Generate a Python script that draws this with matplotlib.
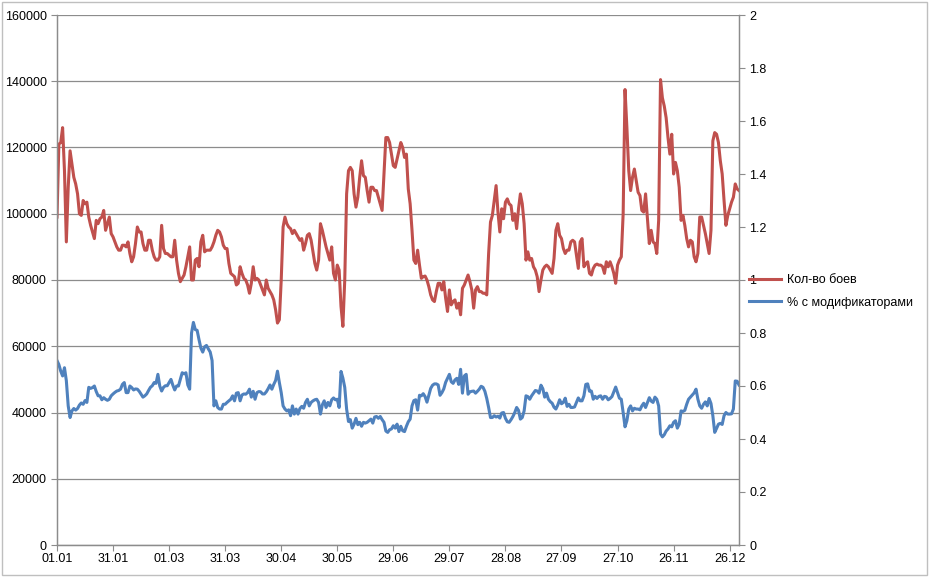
import matplotlib
matplotlib.use("Agg")
import matplotlib.pyplot as plt
import matplotlib.dates as mdates
from matplotlib.ticker import MultipleLocator, FuncFormatter
import numpy as np
import pandas as pd

plt.rcParams['font.family'] = ['Liberation Sans', 'DejaVu Sans']

# daily data, 2012 (leap year), 01.01 .. 31.12
start_date = '2012-01-01'

# number of battles, thousands
battles_k = [
    99, 121, 121.5, 126, 113, 91.5, 108, 119, 115, 111, 109, 106, 100, 99.5, 104, 103, 103.5, 99, 96.5, 94.5,
    92.5, 98, 97, 98.5, 99, 101, 95, 97, 99, 94, 93, 91.5, 90, 89, 89, 90.5, 90.5, 90, 91.5, 88,
    85.5, 87, 91, 96, 94.5, 94.5, 91, 89, 89, 92, 92, 89, 87, 86, 86, 87, 96.5, 89.5, 88, 88, 87.5,
    87, 87, 92, 86, 82, 79.5, 80.5, 81.5, 84, 87, 90, 80, 80, 86, 86.5, 84, 91.5, 93.5, 88.5, 89,
    89, 89, 90, 91.5, 93.5, 95, 94.5, 93, 90.5, 89.5, 89.5, 85, 82, 81.5, 81, 78.5, 79, 84, 82, 80.5,
    80, 78.5, 76, 79, 84, 80, 80.5, 80, 78.5, 77, 75.5, 80, 77.5, 76.5, 75.5, 74, 71, 67, 68, 80, 96,
    99, 97, 96, 95.5, 94, 95, 94, 93, 92, 92.5, 89, 91, 93.5, 94, 92, 88.5, 85, 83, 86, 97,
    95, 92.5, 90, 88, 86, 90, 82, 80, 84.5, 83, 72, 66, 80, 106, 113, 114, 113, 106, 102, 105,
    111, 116, 111.5, 111, 107, 103.5, 108, 108, 107, 107, 105, 103, 101, 112, 123, 123, 121.5, 118, 114.5, 114,
    116.5, 119, 121.5, 120, 117, 118, 107.5, 103, 95, 86, 85, 89, 84.5, 80.5, 81, 81.2, 80, 78, 75.5, 74,
    73.5, 76.5, 79, 79, 77, 79.5, 74.5, 70.5, 77, 72.5, 73.5, 74, 71.5, 73, 69.5, 77.5, 78.5, 80, 81.5, 79.5,
    77, 71.5, 77, 78, 76.5, 76.5, 76, 76, 75.5, 88, 97.5, 99.5, 104, 108.5, 100.5, 94.5, 101.5, 98.5, 103.5, 104.5, 103,
    102.5, 98, 100, 95.5, 101.5, 106, 103, 97, 86, 88.5, 86, 86.5, 84, 83, 81, 76.5, 80, 83, 84, 84.5,
    84, 83, 82, 86.5, 95, 97, 93.5, 92.5, 89.5, 88, 89, 89, 91.5, 92, 91.5, 87.5, 83.5, 91.5, 92.5, 84,
    85, 85.5, 82, 81.5, 83.5, 84.5, 84.8, 84.5, 84.5, 84, 82, 85.5, 84, 85.5, 84, 82, 79, 84.5, 86, 87,
    100, 137.5, 126, 113, 107, 111, 113.5, 110, 106.5, 105.5, 101, 100.5, 106, 98.5, 91, 95, 91.5, 91, 88, 98,
    140.5, 135, 132.5, 129, 123, 118, 124, 112, 115.5, 113, 108, 98, 99.5, 96.5, 92.5, 90, 92, 91.5, 87, 85.5,
    88, 99, 99, 96.5, 94, 91, 88, 95, 122, 124.5, 124, 121.5, 116, 112, 104, 96.5, 99.5, 101.5, 103.5, 105,
    109, 107.5, 107,
]

# share of battles with modifiers
mod_share = [
    0.696, 0.681, 0.656, 0.638, 0.669, 0.62, 0.525, 0.481, 0.506, 0.515, 0.509, 0.515, 0.528, 0.536, 0.531, 0.545,
    0.538, 0.595, 0.591, 0.594, 0.6, 0.579, 0.563, 0.563, 0.548, 0.556, 0.55, 0.546, 0.55, 0.563, 0.57, 0.576,
    0.581, 0.583, 0.588, 0.606, 0.613, 0.575, 0.575, 0.6, 0.594, 0.585, 0.589, 0.588, 0.58, 0.569, 0.558, 0.563,
    0.57, 0.583, 0.595, 0.601, 0.613, 0.61, 0.644, 0.6, 0.581, 0.595, 0.601, 0.601, 0.613,
    0.625, 0.603, 0.585, 0.6, 0.6, 0.625, 0.65, 0.646, 0.65, 0.604, 0.588, 0.8, 0.84, 0.813, 0.81, 0.775,
    0.743, 0.728, 0.748, 0.753, 0.74, 0.728, 0.696, 0.525, 0.544, 0.519, 0.513, 0.513, 0.531, 0.531, 0.538, 0.544,
    0.55, 0.563, 0.544, 0.573, 0.575, 0.544, 0.566, 0.57, 0.569, 0.575, 0.588, 0.558, 0.58, 0.55, 0.575, 0.579,
    0.578, 0.57, 0.57, 0.578, 0.59, 0.604, 0.588, 0.606, 0.621, 0.656, 0.613, 0.575, 0.525,
    0.513, 0.506, 0.51, 0.488, 0.525, 0.494, 0.513, 0.494, 0.515, 0.523, 0.516, 0.538, 0.55, 0.525, 0.538, 0.544,
    0.548, 0.55, 0.538, 0.494, 0.529, 0.544, 0.519, 0.538, 0.525, 0.548, 0.555, 0.548, 0.55, 0.519, 0.655, 0.63,
    0.595, 0.513, 0.466, 0.473, 0.441, 0.456, 0.478, 0.454, 0.463, 0.448, 0.463, 0.46, 0.463, 0.469, 0.475, 0.46,
    0.483, 0.485, 0.478, 0.485, 0.473, 0.463, 0.43, 0.425, 0.435, 0.438, 0.45, 0.441,
    0.456, 0.428, 0.448, 0.431, 0.428, 0.448, 0.465, 0.475, 0.525, 0.545, 0.548, 0.509, 0.565, 0.563, 0.571, 0.56,
    0.539, 0.565, 0.591, 0.603, 0.608, 0.608, 0.604, 0.565, 0.575, 0.589, 0.614, 0.629, 0.644, 0.616, 0.61, 0.623,
    0.629, 0.606, 0.663, 0.573, 0.638, 0.644, 0.569, 0.578, 0.58, 0.581, 0.573, 0.58, 0.588, 0.599, 0.595, 0.58,
    0.553, 0.519, 0.481, 0.481, 0.488, 0.483, 0.486, 0.479, 0.498, 0.5, 0.478, 0.465, 0.463,
    0.473, 0.485, 0.5, 0.519, 0.508, 0.475, 0.481, 0.506, 0.563, 0.56, 0.55, 0.563, 0.573, 0.583, 0.581, 0.573,
    0.603, 0.59, 0.558, 0.573, 0.55, 0.541, 0.535, 0.52, 0.513, 0.528, 0.548, 0.533, 0.538, 0.554, 0.523, 0.531,
    0.519, 0.519, 0.521, 0.538, 0.555, 0.544, 0.544, 0.563, 0.606, 0.608, 0.58, 0.581, 0.55, 0.561, 0.553, 0.561,
    0.563, 0.55, 0.561, 0.559, 0.548, 0.553, 0.56, 0.578, 0.596, 0.575, 0.554, 0.55,
    0.5, 0.446, 0.469, 0.513, 0.525, 0.506, 0.516, 0.513, 0.513, 0.51, 0.525, 0.535, 0.519, 0.538, 0.556, 0.543,
    0.538, 0.558, 0.55, 0.525, 0.419, 0.408, 0.416, 0.43, 0.438, 0.45, 0.446, 0.463, 0.469, 0.441, 0.456, 0.506,
    0.504, 0.508, 0.531, 0.55, 0.558, 0.566, 0.574, 0.588, 0.55, 0.525, 0.516, 0.531, 0.54, 0.525, 0.553, 0.534,
    0.488, 0.425, 0.44, 0.456, 0.459, 0.455, 0.488, 0.5, 0.494, 0.494, 0.495, 0.513, 0.619, 0.618, 0.604,
]

label_battles = 'Кол-во боев'
label_mods = '% с модификаторами'

dates = pd.date_range(start_date, periods=len(battles_k), freq='D')
battles = np.array(battles_k) * 1000

red = '#C0504D'
blue = '#4F81BD'
grid = '#8c8c8c'

fig = plt.figure(figsize=(9.30, 5.77), dpi=100)
ax = fig.add_axes([57 / 930, 32 / 577, 682 / 930, 530 / 577])
ax2 = ax.twinx()

ax.plot(dates, battles, color=red, lw=2.2, label=label_battles)
ax2.plot(dates, mod_share, color=blue, lw=2.2, label=label_mods)

ax.set_xlim(dates[0], dates[-1])
ax.set_ylim(0, 160000)
ax2.set_ylim(0, 2)
ax.yaxis.set_major_locator(MultipleLocator(20000))
ax2.yaxis.set_major_locator(MultipleLocator(0.2))
ax2.yaxis.set_major_formatter(FuncFormatter(lambda v, p: '%g' % round(v, 1)))
ax.set_xticks(dates[::30])
ax.xaxis.set_major_formatter(mdates.DateFormatter('%d.%m'))

ax.grid(axis='y', color=grid, lw=0.9)
ax.set_axisbelow(True)
for a in (ax, ax2):
    a.spines['top'].set_visible(False)
    for s in ('left', 'right', 'bottom'):
        a.spines[s].set_color(grid)
        a.spines[s].set_linewidth(0.9)
    a.tick_params(labelsize=9, colors='black', length=4, width=0.8, color=grid)
ax.tick_params(axis='x', pad=2)

h1, l1 = ax.get_legend_handles_labels()
h2, l2 = ax2.get_legend_handles_labels()
fig.legend(h1 + h2, l1 + l2, loc='upper left', bbox_to_anchor=(738 / 930, 1 - 263 / 577),
           frameon=False, fontsize=9, handlelength=2.5, labelspacing=0.85, handletextpad=0.5)

# thin outer frame of the chart
fig.patches.append(plt.Rectangle((0.002, 0.003), 0.995, 0.993, transform=fig.transFigure,
                                 fill=False, edgecolor='#bfbfbf', lw=1.0))

fig.savefig('out.png', dpi=100)
